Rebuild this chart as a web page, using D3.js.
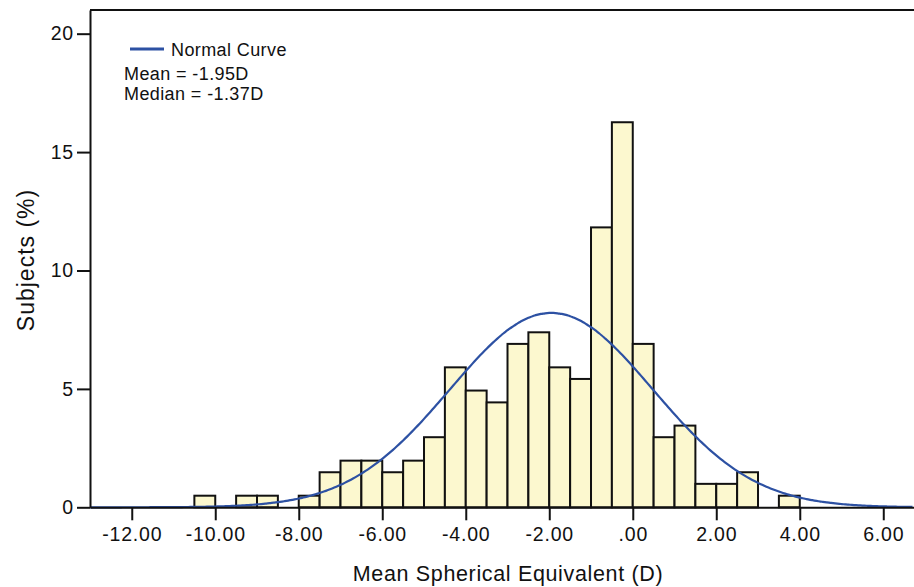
<!DOCTYPE html>
<html>
<head>
<meta charset="utf-8">
<script src="https://cdn.jsdelivr.net/npm/d3@7"></script>
<style>
  body { margin: 0; background: #fff; }
  svg { display: block; font-family: "Liberation Sans", Arial, sans-serif; }
</style>
</head>
<body>
<svg id="chart" width="914" height="587"></svg>
<script>
// bin lower edges (D), bin width 0.5
var binStarts = [-10.5, -9.5, -9.0, -8.0, -7.5, -7.0, -6.5, -6.0, -5.5, -5.0,
                 -4.5, -4.0, -3.5, -3.0, -2.5, -2.0, -1.5, -1.0, -0.5, 0.0,
                 0.5, 1.0, 1.5, 2.0, 2.5, 3.5];
// percent of subjects in each bin
var percents = [0.49, 0.49, 0.49, 0.49, 1.48, 1.97, 1.97, 1.48, 1.97, 2.96,
                5.91, 4.93, 4.43, 6.90, 7.39, 5.91, 5.42, 11.82, 16.26, 6.90,
                2.96, 3.45, 0.99, 0.99, 1.48, 0.49];
var binWidth = 0.5;
var xTicks = [-12, -10, -8, -6, -4, -2, 0, 2, 4, 6];
var yTicks = [0, 5, 10, 15, 20];
var meanSE = -1.95;
var sdSE = 2.43;

var svg = d3.select("#chart");
var margin = { left: 90, top: 10 };
var width = 824, height = 497.3;

var g = svg.append("g")
    .attr("transform", "translate(" + margin.left + "," + margin.top + ")");

var x = d3.scaleLinear().domain([-13, 6.736]).range([0, width]);
var y = d3.scaleLinear().domain([0, 21]).range([height, 0]);

var bins = binStarts.map(function (s, i) { return { x0: s, x1: s + binWidth, v: percents[i] }; });

// bars
g.append("g")
    .selectAll("rect")
    .data(bins)
    .enter()
    .append("rect")
    .attr("x", function (d) { return x(d.x0); })
    .attr("y", function (d) { return y(d.v); })
    .attr("width", function (d) { return x(d.x1) - x(d.x0); })
    .attr("height", function (d) { return y(0) - y(d.v); })
    .style("fill", "#fcf8cf")
    .style("stroke", "#111")
    .style("stroke-width", 2);

// normal curve (scaled to percent per bin)
var curvePts = d3.range(-13, 6.74, 0.05).map(function (v) {
    var z = (v - meanSE) / sdSE;
    return [v, 100 * binWidth * Math.exp(-0.5 * z * z) / (sdSE * Math.sqrt(2 * Math.PI))];
});
g.append("path")
    .datum(curvePts)
    .attr("d", d3.line()
        .x(function (d) { return x(d[0]); })
        .y(function (d) { return y(d[1]); })
        .curve(d3.curveBasis))
    .style("fill", "none")
    .style("stroke", "#2d51a3")
    .style("stroke-width", 2.2);

// axes
var fmt = function (d) {
    var s = d3.format(".2f")(d).replace("\u2212", "-");
    return s === "0.00" ? ".00" : s;
};
var xAxis = g.append("g")
    .attr("transform", "translate(0," + height + ")")
    .call(d3.axisBottom(x).tickValues(xTicks).tickFormat(fmt).tickSize(13).tickSizeOuter(0).tickPadding(7));
var yAxis = g.append("g")
    .call(d3.axisLeft(y).tickValues(yTicks).tickSize(13).tickSizeOuter(0).tickPadding(3));

[xAxis, yAxis].forEach(function (a) {
    a.selectAll("path, line").style("stroke", "#111").style("stroke-width", 2);
    a.selectAll("text").style("font-size", "19.5px").style("fill", "#111")
        .style("letter-spacing", "0.8px")
        .style("font-family", "'Liberation Sans', Arial, sans-serif");
});

// top frame line
g.append("line")
    .attr("x1", 0).attr("x2", width)
    .attr("y1", 0).attr("y2", 0)
    .style("stroke", "#111").style("stroke-width", 2);

// axis titles
svg.append("text")
    .attr("x", 508)
    .attr("y", 581)
    .attr("text-anchor", "middle")
    .style("font-size", "21.5px")
    .style("letter-spacing", "0.65px")
    .style("fill", "#111")
    .text("Mean Spherical Equivalent (D)");

svg.append("text")
    .attr("transform", "translate(34,260) rotate(-90)")
    .attr("text-anchor", "middle")
    .style("font-size", "23px")
    .style("letter-spacing", "1px")
    .style("fill", "#111")
    .text("Subjects (%)");

// legend
svg.append("line")
    .attr("x1", 130).attr("x2", 164)
    .attr("y1", 49).attr("y2", 49)
    .style("stroke", "#2d51a3").style("stroke-width", 3);
var legendText = [["Normal Curve", 171, 56], ["Mean = -1.95D", 124, 80], ["Median = -1.37D", 124, 100]];
svg.selectAll(".legend-label")
    .data(legendText)
    .enter()
    .append("text")
    .attr("class", "legend-label")
    .attr("x", function (d) { return d[1]; })
    .attr("y", function (d) { return d[2]; })
    .style("font-size", "18px")
    .style("letter-spacing", "0.4px")
    .style("fill", "#111")
    .text(function (d) { return d[0]; });
</script>
</body>
</html>
